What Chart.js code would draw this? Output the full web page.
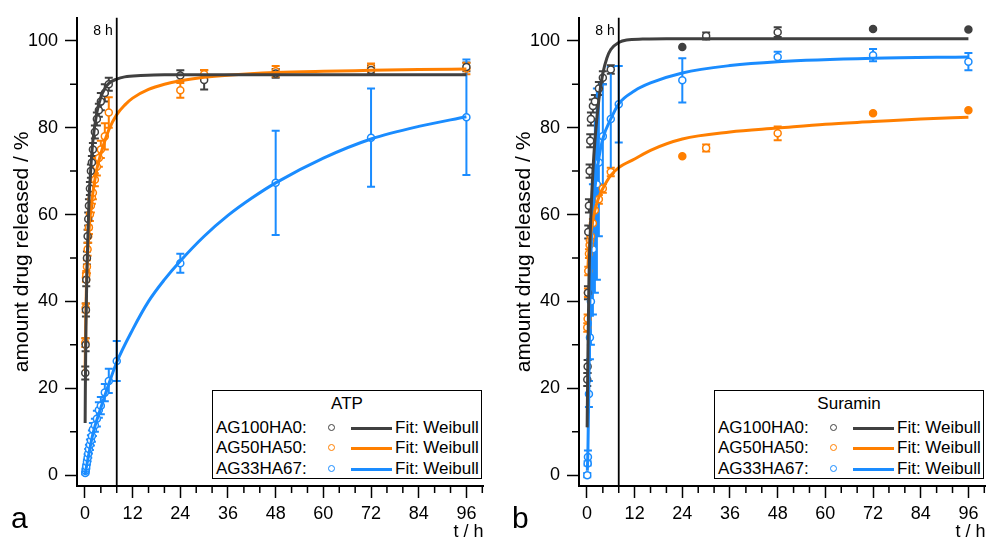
<!DOCTYPE html>
<html>
<head>
<meta charset="utf-8">
<script src="https://cdn.jsdelivr.net/npm/chart.js@4.4.0/dist/chart.umd.min.js"></script>
<style>
  body { margin: 0; background: #fff; }
  #page { position: relative; width: 991px; height: 541px; overflow: hidden; font-family: "Liberation Sans", Arial, sans-serif; color: #000; }
  canvas { position: absolute; top: 0; }
  .tag { position: absolute; top: 503px; font-size: 30px; line-height: 1; }
  .legend { position: absolute; top: 390px; width: 268px; height: 87px; border: 1.5px solid #000; background: #fff; font-size: 17px; }
  .legend .head { position: absolute; left: 0; right: 0; top: 3px; text-align: center; line-height: 20px; }
  .legend .row { position: absolute; left: 0; right: 0; height: 20px; line-height: 20px; }
  .legend .lab { position: absolute; left: 3px; }
  .legend .mk { position: absolute; left: 115px; top: 6px; width: 5px; height: 5px; border: 1.5px solid; border-radius: 50%; }
  .legend .ln { position: absolute; left: 138px; top: 9px; width: 41px; height: 3px; }
  .legend .fit { position: absolute; left: 182px; }
</style>
</head>
<body>
<div id="page">
  <canvas id="atpChart" width="495" height="541" style="left:0"></canvas>
  <canvas id="suraminChart" width="489" height="541" style="left:502px"></canvas>
  <div class="tag" style="left:11px">a</div>
  <div class="tag" style="left:512px">b</div>
</div>
<script>
// series names and colours
var seriesNames = ['AG100HA0:', 'AG50HA50:', 'AG33HA67:'];
var seriesColors = ['#404040', '#ff7f00', '#1a8cff'];

// ---- ATP (panel a) ----
var atpHours = [0.08, 0.17, 0.25, 0.33, 0.5, 0.67, 0.83, 1, 1.25, 1.5, 1.75, 2, 2.5, 3, 3.5, 4, 5, 6, 24, 30, 48, 72, 96];
var atpAG100 = [23.5, 30, 38, 45, 50, 55, 59, 62, 66, 70, 72, 75, 79, 82, 84, 86, 88, 90, 92, 91, 92.5, 93.3, 94];
var atpAG100Err = [1.5, 1.5, 1.5, 1.5, 1.5, 1.5, 1.5, 1.5, 1.5, 1.5, 1.5, 1.5, 1.5, 1.5, 1.5, 2, 2, 1.5, 1.2, 2.2, 1, 1, 1];
var atpAG50 = [30.5, 38.5, 45.5, 46, 48, 52, 55, 57, 60, 62, 64, 65, 68, 71, 73, 75, 78, 83.5, 88.6, 92.3, 93, 93.8, 93.6];
var atpAG50Err = [1, 1, 1, 1, 1.5, 1.5, 1.5, 1.5, 1.5, 1.5, 1.5, 1.5, 1.5, 2, 2, 2, 3, 3.5, 1.7, 1, 1.2, 1, 1.3];
var atpHours33 = [0.08, 0.17, 0.25, 0.33, 0.5, 0.67, 0.83, 1, 1.25, 1.5, 1.75, 2, 2.5, 3, 3.5, 4, 5, 6, 8, 24, 48, 72, 96];
var atpAG33 = [0.5, 1, 1.5, 2, 3, 4, 5, 6, 7, 8, 9, 10.5, 11.5, 13, 15, 16, 19, 21.7, 26.3, 48.8, 67.3, 77.7, 82.4];
var atpAG33Err = [0.3, 0.5, 0.5, 0.5, 0.6, 0.8, 1, 1, 1.2, 1.2, 1.3, 1.5, 1.5, 1.8, 1.8, 2, 2, 2.8, 4.6, 2.2, 12, 11.3, 13.3];

// Weibull fit curves
var atpFitHours100 = [0.05, 0.1, 0.25, 0.5, 1, 1.5, 2, 3, 4, 5, 6, 8, 10, 14, 20, 30, 48, 72, 96];
var atpFit100 = [12, 20, 34, 47, 63, 71, 77, 83.5, 87, 89, 90.2, 91.2, 91.7, 92, 92.2, 92.2, 92.2, 92.2, 92.2];
var atpFitHours50 = [0.05, 0.1, 0.25, 0.5, 1, 2, 3, 4, 6, 8, 10, 12, 16, 20, 24, 30, 36, 48, 60, 72, 84, 96];
var atpFit50 = [24, 28, 38, 47, 56, 65, 70.5, 74, 79.5, 83, 85.2, 86.8, 88.8, 90, 90.8, 91.6, 92.1, 92.7, 93, 93.2, 93.4, 93.5];
var atpFitHours33 = [0, 1, 2, 4, 6, 8, 12, 16, 20, 24, 30, 36, 42, 48, 60, 72, 84, 96];
var atpFit33 = [0, 5, 9.5, 15.5, 21, 26, 33.5, 40, 45, 49.3, 55, 59.8, 63.8, 67.3, 73, 77.4, 80.3, 82.5];

// ---- Suramin (panel b) ----
var surHours = [0.08, 0.17, 0.25, 0.33, 0.5, 0.67, 0.83, 1, 1.5, 2, 3, 4, 6, 24, 30, 48, 72, 96];
var surFilled = [false, false, false, false, false, false, false, false, false, false, false, false, false, true, false, false, true, true];
var surAG100 = [22, 25, 42, 56, 62, 70, 77, 82, 85, 86, 89, 91.5, 93.4, 98.6, 101.1, 102, 102.7, 102.6];
var surAG100Err = [1.5, 1.5, 1.5, 1.5, 1.5, 1.5, 1.5, 1.5, 1.5, 1.5, 1.5, 1.5, 1, 0, 0.8, 1.1, 0, 0];
var surAG50 = [34, 36, 42, 47, 51, 53, 54, 55, 58, 61, 63.5, 66, 69.8, 73.4, 75.3, 78.7, 83.3, 84];
var surAG50Err = [1, 1, 1, 1, 1, 1, 1, 1, 1, 1, 1, 1, 1, 0, 0.8, 1.6, 0, 0];
var surHours33 = [0.08, 0.17, 0.25, 0.5, 0.75, 1, 1.5, 2, 2.5, 3, 4, 6, 8, 24, 48, 72, 96];
var surAG33 = [0, 2.7, 4.2, 18.7, 31.7, 40, 52, 62, 67, 72, 78, 82, 85.4, 90.9, 96.3, 96.7, 95.2];
var surAG33Err = [0.5, 0.5, 1.5, 3, 5, 10, 15, 20, 22, 17, 12, 12, 8.8, 5.1, 1.2, 1.4, 2];

var surFitHours100 = [0.05, 0.1, 0.25, 0.5, 1, 1.5, 2, 3, 4, 5, 6, 8, 10, 14, 20, 30, 48, 72, 96];
var surFit100 = [11, 16, 28, 45, 60, 70, 77, 86.5, 92.5, 96, 98, 99.6, 100.2, 100.4, 100.5, 100.5, 100.5, 100.5, 100.5];
var surFitHours50 = [0.25, 0.5, 1, 2, 3, 4, 6, 8, 12, 16, 24, 36, 48, 60, 72, 84, 96];
var surFit50 = [48, 52, 56, 61, 64, 66, 69, 70.8, 72.8, 74.8, 77.4, 79, 79.9, 80.8, 81.4, 82, 82.4];
var surFitHours33 = [0.1, 0.25, 0.5, 0.75, 1, 1.5, 2, 3, 4, 6, 8, 12, 16, 24, 36, 48, 72, 96];
var surFit33 = [1, 6, 22, 40, 51, 60, 66, 73, 77.5, 82, 85.5, 88.5, 90.3, 92.6, 94.3, 95.2, 96, 96.3];

var markHour = 8;

Chart.defaults.font.family = '"Liberation Sans", Arial, sans-serif';
Chart.defaults.font.size = 18;
Chart.defaults.color = '#000';

function xy(xs, ys) {
    return xs.map(function (x, i) { return {x: x, y: ys[i]}; });
}

function pointSet(xs, ys, errs, color, filled) {
    return {
        data: xy(xs, ys),
        errors: errs,
        showLine: false,
        borderColor: color,
        pointBorderColor: color,
        pointBackgroundColor: xs.map(function (x, i) { return filled && filled[i] ? color : '#fff'; }),
        pointRadius: 3.5,
        pointBorderWidth: 1.5
    };
}

function fitSet(xs, ys, color) {
    return {
        data: xy(xs, ys),
        showLine: true,
        borderColor: color,
        borderWidth: 3,
        pointRadius: 0,
        cubicInterpolationMode: 'monotone',
        fill: false
    };
}

// error bars drawn through the y scale
var errorBars = {
    id: 'errorBars',
    beforeDatasetsDraw: function (chart) {
        var ctx = chart.ctx, y = chart.scales.y;
        chart.data.datasets.forEach(function (ds, i) {
            if (!ds.errors) return;
            var meta = chart.getDatasetMeta(i);
            ctx.save();
            ctx.strokeStyle = ds.borderColor;
            ctx.lineWidth = 2;
            ctx.beginPath();
            meta.data.forEach(function (pt, j) {
                var e = ds.errors[j];
                if (!e) return;
                var v = ds.data[j].y;
                var top = y.getPixelForValue(v + e), bot = y.getPixelForValue(v - e);
                ctx.moveTo(pt.x, top); ctx.lineTo(pt.x, bot);
                ctx.moveTo(pt.x - 4, top); ctx.lineTo(pt.x + 4, top);
                ctx.moveTo(pt.x - 4, bot); ctx.lineTo(pt.x + 4, bot);
            });
            ctx.stroke();
            ctx.restore();
        });
    }
};

// minor ticks + the 8 h marker line
var extras = {
    id: 'extras',
    afterDraw: function (chart) {
        var ctx = chart.ctx, a = chart.chartArea, x = chart.scales.x, y = chart.scales.y;
        ctx.save();
        ctx.strokeStyle = '#000';
        ctx.lineWidth = 1.5;
        ctx.beginPath();
        for (var t = 4; t <= x.max; t += 4) {
            if (t % 12 === 0) continue;
            var px = x.getPixelForValue(t);
            ctx.moveTo(px, a.bottom); ctx.lineTo(px, a.bottom + 7);
        }
        for (var v = 10; v <= y.max; v += 20) {
            var py = y.getPixelForValue(v);
            ctx.moveTo(a.left, py); ctx.lineTo(a.left - 7, py);
        }
        ctx.stroke();
        var mx = x.getPixelForValue(markHour);
        ctx.lineWidth = 1.8;
        ctx.beginPath();
        ctx.moveTo(mx, a.top); ctx.lineTo(mx, a.bottom);
        ctx.stroke();
        ctx.fillStyle = '#000';
        ctx.font = '14px "Liberation Sans", Arial, sans-serif';
        ctx.textAlign = 'right';
        ctx.textBaseline = 'top';
        ctx.fillText(markHour + ' h', mx - 4, a.top + 6);
        ctx.restore();
    }
};

function makePanel(id, datasets, yWidth, padRight, titlePad) {
    return new Chart(document.getElementById(id), {
        type: 'scatter',
        data: {datasets: datasets},
        options: {
            responsive: false,
            animation: false,
            events: [],
            layout: {padding: {left: 0, top: 15, right: padRight, bottom: 0}},
            plugins: {legend: {display: false}, tooltip: {enabled: false}},
            scales: {
                x: {
                    type: 'linear',
                    min: -2,
                    max: 100.3,
                    afterFit: function (s) { s.height = 55; },
                    border: {color: '#000', width: 2},
                    grid: {drawOnChartArea: false, tickLength: 12, tickWidth: 1.5, tickColor: '#000'},
                    ticks: {stepSize: 12, includeBounds: false, padding: 5, maxRotation: 0, color: '#000'},
                    title: {display: true, text: 't / h', align: 'end', color: '#000', font: {size: 18, lineHeight: 1}, padding: {top: 0, bottom: 0}}
                },
                y: {
                    min: -2.5,
                    max: 105.3,
                    afterFit: function (s) { s.width = yWidth; },
                    border: {color: '#000', width: 2},
                    grid: {drawOnChartArea: false, tickLength: 12, tickWidth: 1.5, tickColor: '#000'},
                    ticks: {stepSize: 20, includeBounds: false, padding: 7, color: '#000'},
                    title: {display: true, text: 'amount drug released / %', color: '#000', font: {size: 21}, padding: {top: titlePad, bottom: 0}}
                }
            }
        },
        plugins: [errorBars, extras]
    });
}

makePanel('atpChart', [
    fitSet(atpFitHours100, atpFit100, seriesColors[0]),
    fitSet(atpFitHours50, atpFit50, seriesColors[1]),
    fitSet(atpFitHours33, atpFit33, seriesColors[2]),
    pointSet(atpHours, atpAG100, atpAG100Err, seriesColors[0]),
    pointSet(atpHours, atpAG50, atpAG50Err, seriesColors[1]),
    pointSet(atpHours33, atpAG33, atpAG33Err, seriesColors[2])
], 77, 11.5, 10);

makePanel('suraminChart', [
    fitSet(surFitHours100, surFit100, seriesColors[0]),
    fitSet(surFitHours50, surFit50, seriesColors[1]),
    fitSet(surFitHours33, surFit33, seriesColors[2]),
    pointSet(surHours, surAG100, surAG100Err, seriesColors[0], surFilled),
    pointSet(surHours, surAG50, surAG50Err, seriesColors[1], surFilled),
    pointSet(surHours33, surAG33, surAG33Err, seriesColors[2])
], 77, 5.5, 10);

// legend boxes
function addLegend(left, title) {
    var box = document.createElement('div');
    box.className = 'legend';
    box.style.left = left + 'px';
    var html = '<div class="head">' + title + '</div>';
    var rowTops = [27, 47, 68];
    seriesNames.forEach(function (name, i) {
        html += '<div class="row" style="top:' + rowTops[i] + 'px">' +
            '<span class="lab">' + name + '</span>' +
            '<span class="mk" style="border-color:' + seriesColors[i] + '"></span>' +
            '<span class="ln" style="background:' + seriesColors[i] + '"></span>' +
            '<span class="fit">Fit: Weibull</span></div>';
    });
    box.innerHTML = html;
    document.getElementById('page').appendChild(box);
}
addLegend(212, 'ATP');
addLegend(714, 'Suramin');
</script>
</body>
</html>
